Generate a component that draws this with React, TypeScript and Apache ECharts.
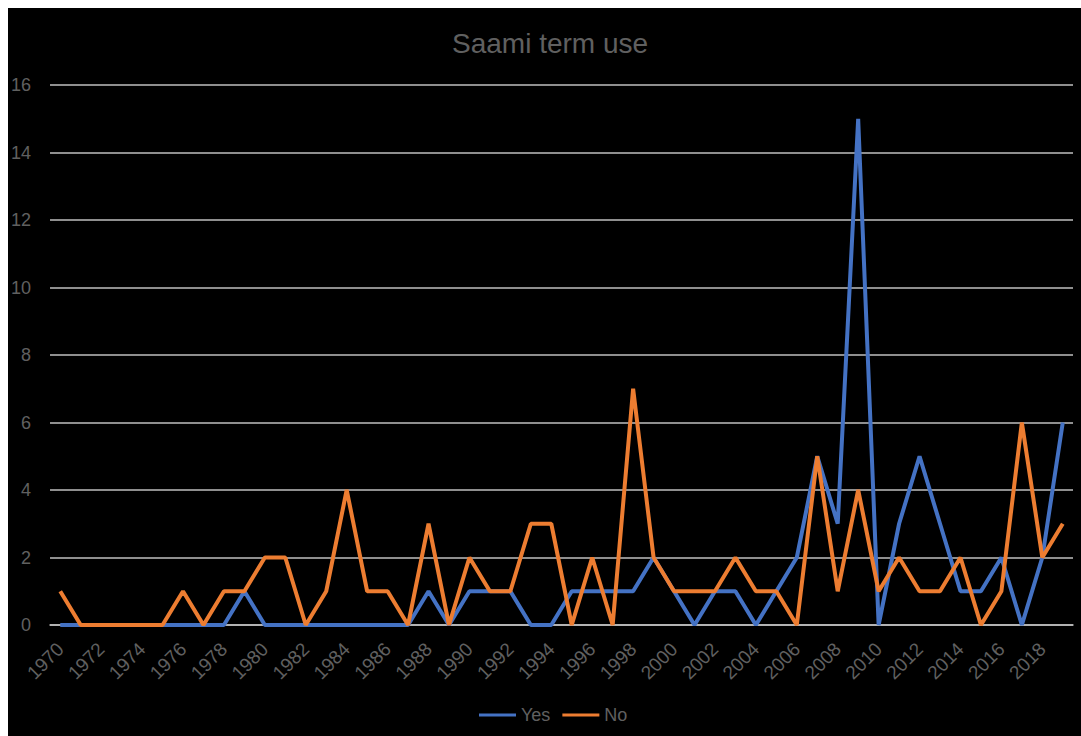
import React, { useEffect, useRef } from "react";
import * as echarts from "echarts";

const years: string[] = [
  "1970", "1971", "1972", "1973", "1974", "1975", "1976", "1977", "1978", "1979",
  "1980", "1981", "1982", "1983", "1984", "1985", "1986", "1987", "1988", "1989",
  "1990", "1991", "1992", "1993", "1994", "1995", "1996", "1997", "1998", "1999",
  "2000", "2001", "2002", "2003", "2004", "2005", "2006", "2007", "2008", "2009",
  "2010", "2011", "2012", "2013", "2014", "2015", "2016", "2017", "2018", "2019",
];

const yesValues: number[] = [
  0, 0, 0, 0, 0, 0, 0, 0, 0, 1,
  0, 0, 0, 0, 0, 0, 0, 0, 1, 0,
  1, 1, 1, 0, 0, 1, 1, 1, 1, 2,
  1, 0, 1, 1, 0, 1, 2, 5, 3, 15,
  0, 3, 5, 3, 1, 1, 2, 0, 2, 6,
];

const noValues: number[] = [
  1, 0, 0, 0, 0, 0, 1, 0, 1, 1,
  2, 2, 0, 1, 4, 1, 1, 0, 3, 0,
  2, 1, 1, 3, 3, 0, 2, 0, 7, 2,
  1, 1, 1, 2, 1, 1, 0, 5, 1, 4,
  1, 2, 1, 1, 2, 0, 1, 6, 2, 3,
];

const TEXT = "#606060";
const GRID = "#bfbfbf";
const FONT = "'Liberation Sans', Arial, sans-serif";

export default function App() {
  const ref = useRef<HTMLDivElement>(null);
  useEffect(() => {
    if (!ref.current) return;
    const chart = echarts.init(ref.current, undefined, { renderer: "svg" });
    chart.setOption({
      animation: false,
      backgroundColor: "#000000",
      title: {
        text: "Saami term use",
        left: 439,
        top: 16,
        textStyle: { color: TEXT, fontSize: 28, fontWeight: "normal", fontFamily: FONT },
      },
      legend: {
        data: ["Yes", "No"],
        left: 466,
        top: 693,
        icon: "rect",
        itemWidth: 37,
        itemHeight: 3,
        itemGap: 12,
        textStyle: { color: TEXT, fontSize: 18, fontFamily: FONT },
      },
      grid: { left: 42, right: 8, top: 77, bottom: 111, containLabel: false },
      xAxis: {
        type: "category",
        data: years,
        boundaryGap: true,
        axisLine: { show: true, lineStyle: { color: GRID, width: 1.5 } },
        axisTick: { show: false },
        axisLabel: {
          interval: 1,
          rotate: 45,
          margin: 21,
          color: TEXT,
          fontSize: 19,
          fontFamily: FONT,
        },
      },
      yAxis: {
        type: "value",
        min: 0,
        max: 16,
        interval: 2,
        axisLine: { show: false },
        axisTick: { show: false },
        axisLabel: { color: TEXT, fontSize: 18, fontFamily: FONT, margin: 19 },
        splitLine: { lineStyle: { color: GRID, width: 1.5 } },
      },
      series: [
        {
          name: "Yes",
          type: "line",
          data: yesValues,
          symbol: "none",
          lineStyle: { color: "#4472C4", width: 4 },
          itemStyle: { color: "#4472C4" },
        },
        {
          name: "No",
          type: "line",
          data: noValues,
          symbol: "none",
          lineStyle: { color: "#ED7D31", width: 4 },
          itemStyle: { color: "#ED7D31" },
        },
      ],
    });
    return () => chart.dispose();
  }, []);
  return (
    <div
      ref={ref}
      style={{ position: "fixed", left: 8, top: 8, width: 1073, height: 728 }}
    />
  );
}
